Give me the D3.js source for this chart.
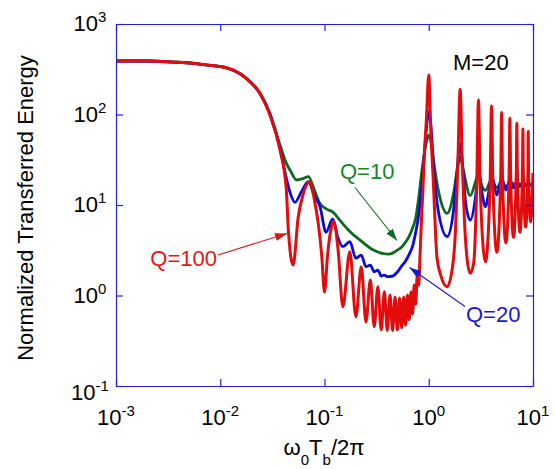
<!DOCTYPE html>
<html>
<head>
<meta charset="utf-8">
<script src="https://cdn.jsdelivr.net/npm/d3@7"></script>
<style>
  body { margin: 0; background: #fff; }
  text { font-family: "Liberation Sans", Arial, sans-serif; }
</style>
</head>
<body>
<div id="chart"></div>
<script>
// tick values and exponent labels
const xTicks = [1e-3, 1e-2, 1e-1, 1, 10];
const xTickExp = ["-3", "-2", "-1", "0", "1"];
const yTicks = [0.1, 1, 10, 100, 1000];
const yTickExp = ["-1", "0", "1", "2", "3"];

// shared low-frequency part (all three curves overlap here)
const rolloff = [[0.001, 390], [0.002, 390], [0.0035, 380], [0.0055, 368], [0.0075, 352],
  [0.0115, 328], [0.0155, 282], [0.0193, 230], [0.024, 172]];

// Q=10 (green)
const q10 = [[0.030, 102], [0.0374, 46], [0.043, 29], [0.047, 24], [0.054, 18.9], [0.062, 19.6],
  [0.07, 20.6], [0.08, 14.6], [0.09, 10.5], [0.105, 9.0], [0.12, 8.4], [0.14, 6.8], [0.1757, 5.07],
  [0.219, 4.1], [0.294, 3.18], [0.41, 2.87], [0.45, 2.94], [0.5, 3.17], [0.55, 3.43], [0.6, 3.9],
  [0.65, 4.54], [0.7, 5.57], [0.75, 7.2], [0.8, 11.9], [0.85, 21.5], [0.9, 35], [0.95, 50], [1.0, 59],
  [1.05, 50], [1.11, 31], [1.25, 13.6], [1.5, 8.1], [1.73, 13.5], [1.9, 26.5], [2.0, 34], [2.15, 24],
  [2.5, 12.7], [2.85, 19], [3.0, 22], [3.25, 16], [3.5, 14.5], [4.0, 19], [4.5, 15.5], [5.0, 18],
  [5.5, 16], [6, 17.5], [7, 17], [8, 17], [10, 17]];

// Q=20 (blue)
const q20 = [[0.030, 101], [0.0374, 43], [0.043, 20], [0.047, 13.5], [0.052, 10.7], [0.06, 14],
  [0.07, 18.1], [0.08, 12.6], [0.0906, 9.6], [0.1033, 5.0], [0.12, 7.0], [0.135, 4.3], [0.15, 3.46],
  [0.175, 3.93], [0.2, 2.58], [0.225, 2.8], [0.25, 2.08], [0.275, 2.17], [0.3, 1.83], [0.325, 1.91],
  [0.35, 1.64], [0.375, 1.68], [0.4, 1.62], [0.45, 1.64], [0.5, 1.82], [0.55, 2.12], [0.6, 2.41],
  [0.65, 2.87], [0.7, 3.52], [0.75, 5.0], [0.8, 7.7], [0.85, 14.6], [0.9, 33], [0.95, 70], [1.0, 107],
  [1.05, 75], [1.1, 33], [1.23, 8.8], [1.5, 4.47], [1.73, 8.8], [1.87, 24.4], [2.0, 48], [2.13, 24.4],
  [2.25, 11], [2.5, 6.8], [2.8, 12], [3.0, 25], [3.2, 15], [3.5, 9.6], [3.8, 15], [4.0, 21.5],
  [4.5, 12.9], [5.0, 19.9], [5.5, 14.6], [6.0, 19], [6.5, 15.5], [7.0, 18.5], [7.5, 16], [8.0, 18],
  [8.5, 16.3], [9.0, 17.8], [9.5, 16.5], [10, 17.5]];

// Q=100 (red)
const q100 = [[0.030, 98], [0.0374, 40.5], [0.043, 15], [0.045, 5.3], [0.05, 2.17], [0.056, 7.4],
  [0.062, 12.9], [0.072, 18.1], [0.08, 11.4], [0.087, 6.3], [0.094, 2.8], [0.1, 1.09], [0.107, 2.8],
  [0.114, 5.0], [0.122, 6.6], [0.135, 3.2], [0.15, 0.75], [0.175, 3.05], [0.2, 0.58], [0.225, 2.08],
  [0.25, 0.51], [0.275, 1.48], [0.3, 0.452], [0.325, 1.25], [0.35, 0.416], [0.375, 1.10], [0.4, 0.41],
  [0.425, 1.01], [0.45, 0.41], [0.475, 0.96], [0.5, 0.416], [0.525, 0.94], [0.55, 0.44], [0.575, 0.96],
  [0.6, 0.47], [0.625, 1.01], [0.65, 0.54], [0.675, 1.09], [0.7, 0.625], [0.725, 1.31], [0.75, 0.8],
  [0.775, 1.69], [0.8, 1.3], [0.825, 2.8], [0.85, 6.5], [0.875, 13], [0.9, 29], [0.95, 90], [1.0, 273],
  [1.05, 60], [1.1, 21], [1.2, 2.6], [1.3, 1.69], [1.5, 1.25], [1.7, 2.17], [1.8, 5.0], [1.9, 28],
  [2.0, 190], [2.1, 28], [2.2, 6.8], [2.35, 2.35], [2.5, 1.76], [2.7, 2.3], [2.88, 15], [3.0, 145],
  [3.12, 15], [3.5, 2.35], [3.88, 18], [4.0, 124], [4.12, 18], [4.5, 3.0], [4.9, 20], [5.0, 105],
  [5.1, 20], [5.5, 3.8], [5.9, 22], [6.0, 91], [6.1, 22], [6.5, 4.4], [6.92, 24], [7.0, 80],
  [7.08, 24], [7.5, 5.0], [7.93, 24], [8.0, 69], [8.07, 24], [8.5, 5.7], [8.94, 25], [9.0, 65],
  [9.06, 25], [9.5, 6.5], [10, 22.6]];

const width = 555, height = 469;
const plotL = 116, plotR = 533, plotT = 24, plotB = 386;
const axisColor = "#2020d8";

const svg = d3.select("#chart").append("svg")
  .attr("width", width)
  .attr("height", height);

const x = d3.scaleLog().domain([1e-3, 10]).range([plotL, plotR]);
const y = d3.scaleLog().domain([0.1, 1000]).range([plotB, plotT]);

// clip
const defs = svg.append("defs");
defs.append("clipPath").attr("id", "plotClip")
  .append("rect").attr("x", plotL).attr("y", plotT)
  .attr("width", plotR - plotL).attr("height", plotB - plotT);

// arrow heads
const markerColors = { red: "#d91414", green: "#106a22", blue: "#1818cc" };
Object.entries(markerColors).forEach(([name, c]) => {
  defs.append("marker")
    .attr("id", "arrow-" + name)
    .attr("viewBox", "0 0 12 8")
    .attr("refX", 12).attr("refY", 4)
    .attr("markerWidth", 12).attr("markerHeight", 8)
    .attr("markerUnits", "userSpaceOnUse")
    .attr("orient", "auto")
    .append("path").attr("d", "M0,0 L12,4 L0,8 Z").attr("fill", c);
});

// curves
const line = d3.line()
  .x(d => x(d[0]))
  .y(d => y(d[1]))
  .curve(d3.curveMonotoneX);

const series = [
  { data: rolloff.concat(q10), color: "#0c6a1e", w: 2.8 },
  { data: rolloff.concat(q20), color: "#0a0adc", w: 2.8 },
  { data: rolloff.concat(q100), color: "#e30c0c", w: 3 }
];

svg.append("g").attr("clip-path", "url(#plotClip)")
  .selectAll("path")
  .data(series)
  .enter()
  .append("path")
  .attr("d", d => line(d.data))
  .attr("fill", "none")
  .attr("stroke", d => d.color)
  .attr("stroke-width", d => d.w)
  .attr("stroke-linejoin", "round");

// axes (ticks pointing inward, no default labels)
function styleAxis(g) {
  g.select(".domain").attr("stroke", axisColor).attr("stroke-width", 1.2);
  g.selectAll(".tick line").attr("stroke", axisColor).attr("stroke-width", 1.2);
  g.selectAll(".tick text").remove();
}

svg.append("g").attr("transform", `translate(0,${plotB})`)
  .call(d3.axisBottom(x).tickValues(xTicks).tickSize(-7).tickSizeOuter(0).tickFormat(""))
  .call(styleAxis);
svg.append("g").attr("transform", `translate(0,${plotT})`)
  .call(d3.axisTop(x).tickValues(xTicks).tickSize(-7).tickSizeOuter(0).tickFormat(""))
  .call(styleAxis);
svg.append("g").attr("transform", `translate(${plotL},0)`)
  .call(d3.axisLeft(y).tickValues(yTicks).tickSize(-7).tickSizeOuter(0).tickFormat(""))
  .call(styleAxis);
svg.append("g").attr("transform", `translate(${plotR},0)`)
  .call(d3.axisRight(y).tickValues(yTicks).tickSize(-7).tickSizeOuter(0).tickFormat(""))
  .call(styleAxis);

// tick labels 10^n
xTicks.forEach((v, i) => {
  const t = svg.append("text")
    .attr("x", x(v)).attr("y", 425)
    .attr("text-anchor", "middle")
    .attr("font-size", 22);
  t.append("tspan").text("10");
  t.append("tspan").attr("dy", -9).attr("font-size", 15).text(xTickExp[i]);
});

yTicks.forEach((v, i) => {
  const off = v === 0.1 ? 14 : 7;
  const t = svg.append("text")
    .attr("x", 90).attr("y", y(v) + off)
    .attr("text-anchor", "middle")
    .attr("font-size", 22);
  t.append("tspan").text("10");
  t.append("tspan").attr("dy", -9).attr("font-size", 15).text(yTickExp[i]);
});

// axis titles
svg.append("text")
  .attr("transform", "translate(33,208) rotate(-90)")
  .attr("text-anchor", "middle")
  .attr("font-size", 22)
  .text("Normalized Transferred Energy");

const xt = svg.append("text")
  .attr("x", 324).attr("y", 455)
  .attr("text-anchor", "middle")
  .attr("font-size", 22);
xt.append("tspan").text("ω");
xt.append("tspan").attr("dy", 10).attr("font-size", 15).text("0");
xt.append("tspan").attr("dy", -10).text("T");
xt.append("tspan").attr("dy", 10).attr("font-size", 15).text("b");
xt.append("tspan").attr("dy", -10).text("/2π");

// annotations
svg.append("text").attr("x", 453).attr("y", 70).attr("font-size", 22).attr("fill", "#000").text("M=20");
svg.append("text").attr("x", 340).attr("y", 179).attr("font-size", 22).attr("fill", "#15862a").text("Q=10");
svg.append("text").attr("x", 466).attr("y", 322).attr("font-size", 22).attr("fill", "#1818cc").text("Q=20");
svg.append("text").attr("x", 217).attr("y", 266).attr("text-anchor", "end").attr("font-size", 22).attr("fill", "#e01818").text("Q=100");

const arrows = [
  { x1: 218, y1: 255, x2: 287, y2: 233.5, name: "red" },
  { x1: 355, y1: 187.5, x2: 397, y2: 240.5, name: "green" },
  { x1: 465, y1: 306.5, x2: 409.5, y2: 267.5, name: "blue" }
];
svg.selectAll(".arrow")
  .data(arrows)
  .enter()
  .append("line")
  .attr("class", "arrow")
  .attr("x1", d => d.x1).attr("y1", d => d.y1)
  .attr("x2", d => d.x2).attr("y2", d => d.y2)
  .attr("stroke", d => markerColors[d.name])
  .attr("stroke-width", 1.1)
  .attr("marker-end", d => `url(#arrow-${d.name})`);
</script>
</body>
</html>
